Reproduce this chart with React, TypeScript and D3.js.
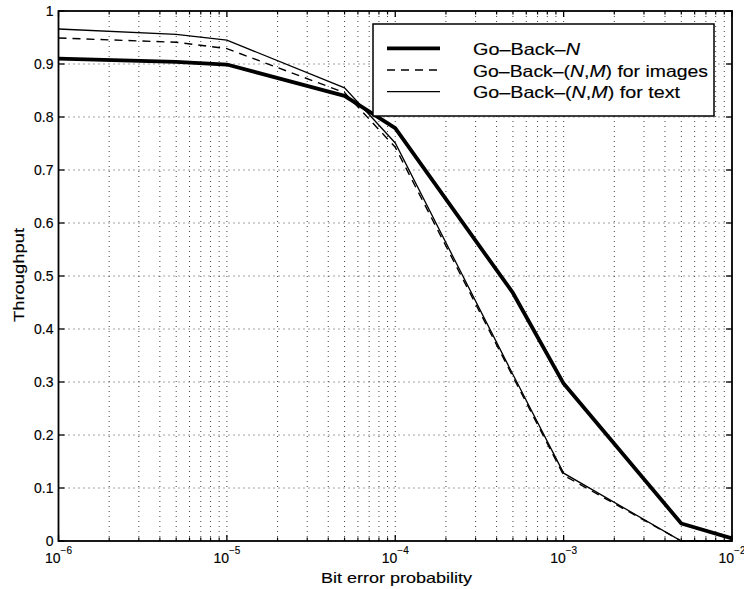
import React from "react";
import * as d3 from "d3";

const xValues = [1e-6, 5e-6, 1e-5, 5e-5, 1e-4, 5e-4, 1e-3, 5e-3, 1e-2];
const goBackN = [0.91, 0.904, 0.899, 0.84, 0.779, 0.468, 0.297, 0.033, 0.005];
const goBackImages = [0.949, 0.941, 0.929, 0.846, 0.743, 0.31, 0.124, 0.0, 0.0];
const goBackText = [0.966, 0.956, 0.945, 0.855, 0.751, 0.314, 0.128, 0.0, 0.0];
const yTicks = [0, 0.1, 0.2, 0.3, 0.4, 0.5, 0.6, 0.7, 0.8, 0.9, 1];
const yTickLabels = ["0", "0.1", "0.2", "0.3", "0.4", "0.5", "0.6", "0.7", "0.8", "0.9", "1"];
const xMajor = [1e-6, 1e-5, 1e-4, 1e-3, 1e-2];
const xExponents = ["−6", "−5", "−4", "−3", "−2"];

const W = 744, H = 589;
const L = 58.5, R = 732, T = 11, B = 541;
const FONT = "'Liberation Sans', Arial, Helvetica, sans-serif";

export default function App() {
  const x = d3.scaleLog().domain([1e-6, 1e-2]).range([L, R]);
  const y = d3.scaleLinear().domain([0, 1]).range([B, T]);
  const minor: number[] = [];
  for (let e = -6; e < -2; e++) {
    for (let k = 2; k <= 9; k++) minor.push(k * Math.pow(10, e));
  }
  const line = d3.line<number>().x((_, i) => x(xValues[i])).y((d) => y(d));
  const grid = { stroke: "#444", strokeWidth: 1, strokeDasharray: "1,4" };
  const txt = { fill: "#000", stroke: "#000", strokeWidth: 0.15 };
  return (
    <svg width={W} height={H} style={{ position: "absolute", left: 0, top: 0, background: "#fff" }} fontFamily={FONT}>
      <rect x={0} y={0} width={W} height={H} fill="#fff" />
      {/* grid */}
      {[...minor, ...xMajor.slice(1, -1)].map((v, i) => (
        <line key={"gx" + i} x1={x(v)} x2={x(v)} y1={T} y2={B} {...grid} />
      ))}
      {yTicks.slice(1, -1).map((v, i) => (
        <line key={"gy" + i} x1={L} x2={R} y1={y(v)} y2={y(v)} {...grid} />
      ))}
      {/* ticks */}
      {yTicks.map((v, i) => (
        <g key={"ty" + i}>
          <line x1={L} x2={L + 6} y1={y(v)} y2={y(v)} stroke="#000" strokeWidth={1.3} />
          <line x1={R} x2={R - 6} y1={y(v)} y2={y(v)} stroke="#000" strokeWidth={1.3} />
          <text x={L - 5} y={y(v) + 5} textAnchor="end" fontSize={14} {...txt}>{yTickLabels[i]}</text>
        </g>
      ))}
      {minor.map((v, i) => (
        <g key={"tm" + i}>
          <line x1={x(v)} x2={x(v)} y1={B} y2={B - 3.5} stroke="#000" strokeWidth={1.2} />
          <line x1={x(v)} x2={x(v)} y1={T} y2={T + 3.5} stroke="#000" strokeWidth={1.2} />
        </g>
      ))}
      {xMajor.map((v, i) => (
        <g key={"tx" + i}>
          <line x1={x(v)} x2={x(v)} y1={B} y2={B - 6} stroke="#000" strokeWidth={1.3} />
          <line x1={x(v)} x2={x(v)} y1={T} y2={T + 6} stroke="#000" strokeWidth={1.3} />
          <text x={x(v)} y={563} textAnchor="middle" fontSize={14} {...txt}>
            10
            <tspan dy={-9} fontSize={10}>{xExponents[i]}</tspan>
          </text>
        </g>
      ))}
      {/* box */}
      <rect x={L} y={T} width={R - L} height={B - T} fill="none" stroke="#000" strokeWidth={1.8} />
      {/* series */}
      <path d={line(goBackText) || ""} fill="none" stroke="#000" strokeWidth={1.3} />
      <path d={line(goBackImages) || ""} fill="none" stroke="#000" strokeWidth={1.4} strokeDasharray="8,6" />
      <path d={line(goBackN) || ""} fill="none" stroke="#000" strokeWidth={3.8} strokeLinejoin="round" />
      {/* legend */}
      <rect x={373} y={24} width={341} height={92} fill="#fff" stroke="#000" strokeWidth={1.5} />
      <line x1={387} x2={440} y1={48.3} y2={48.3} stroke="#000" strokeWidth={3.8} />
      <line x1={387} x2={440} y1={70} y2={70} stroke="#000" strokeWidth={1.4} strokeDasharray="8,6" />
      <line x1={387} x2={440} y1={91.7} y2={91.7} stroke="#000" strokeWidth={1.3} />
      <text x={473} y={55} fontSize={16.5} {...txt} textLength={107} lengthAdjust="spacingAndGlyphs">Go–Back–<tspan fontStyle="italic">N</tspan></text>
      <text x={473} y={76.7} fontSize={16.5} {...txt} textLength={235} lengthAdjust="spacingAndGlyphs">Go–Back–(<tspan fontStyle="italic">N</tspan>,<tspan fontStyle="italic">M</tspan>) for images</text>
      <text x={473} y={98.3} fontSize={16.5} {...txt} textLength={207} lengthAdjust="spacingAndGlyphs">Go–Back–(<tspan fontStyle="italic">N</tspan>,<tspan fontStyle="italic">M</tspan>) for text</text>
      {/* axis labels */}
      <text x={321} y={583.3} fontSize={15} {...txt} textLength={151} lengthAdjust="spacingAndGlyphs">Bit error probability</text>
      <text transform={`translate(24,322) rotate(-90)`} fontSize={15} {...txt} textLength={94} lengthAdjust="spacingAndGlyphs">Throughput</text>
    </svg>
  );
}
